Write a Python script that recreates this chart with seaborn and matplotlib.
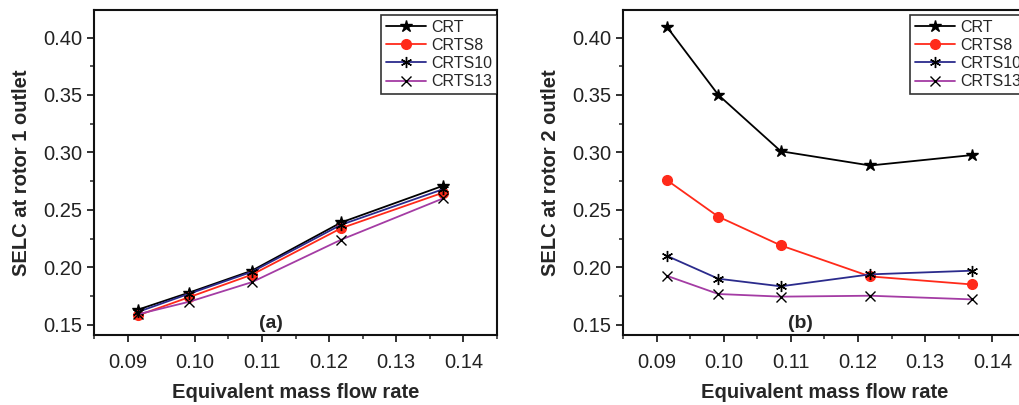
import matplotlib
matplotlib.use("Agg")
import matplotlib.pyplot as plt
import seaborn as sns
from matplotlib.ticker import MultipleLocator, AutoMinorLocator

# --- data ---
mass_flow = [0.0915, 0.0992, 0.1085, 0.1218, 0.1370]

rotor1_crt = [0.163, 0.178, 0.197, 0.239, 0.271]
rotor1_crts8 = [0.158, 0.174, 0.1935, 0.234, 0.265]
rotor1_crts10 = [0.161, 0.177, 0.196, 0.237, 0.268]
rotor1_crts13 = [0.159, 0.170, 0.187, 0.224, 0.260]

rotor2_crt = [0.4096, 0.350, 0.301, 0.2886, 0.2977]
rotor2_crts8 = [0.276, 0.244, 0.219, 0.192, 0.185]
rotor2_crts10 = [0.210, 0.190, 0.1834, 0.1938, 0.197]
rotor2_crts13 = [0.1926, 0.1767, 0.1744, 0.1752, 0.172]

series_names = ["CRT", "CRTS8", "CRTS10", "CRTS13"]
line_colors = ["#000000", "#ff2a1a", "#2b2b8c", "#a43ca4"]
marker_styles = ["*", "o", (6, 2, 0), "x"]
marker_faces = ["#000000", "#ff2a1a", "#000000", "#000000"]
marker_sizes = [9, 7, 8, 7]

sns.set_style("ticks")
plt.rcParams["font.family"] = ["Liberation Sans", "DejaVu Sans"]
plt.rcParams["axes.linewidth"] = 1.5


def draw_panel(ax, series, ylabel, tag):
	for name, vals, col, mk, mf, ms in zip(series_names, series, line_colors,
										  marker_styles, marker_faces, marker_sizes):
		sns.lineplot(x=mass_flow, y=vals, ax=ax, color=col, linewidth=1.3,
					 marker=mk, markersize=ms, markerfacecolor=mf,
					 markeredgecolor=mf, markeredgewidth=1.0, label=name)
	ax.set_xlim(0.085, 0.145)
	ax.set_ylim(0.141, 0.424)
	ax.xaxis.set_major_locator(MultipleLocator(0.01))
	ax.yaxis.set_major_locator(MultipleLocator(0.05))
	ax.xaxis.set_minor_locator(AutoMinorLocator(2))
	ax.yaxis.set_minor_locator(AutoMinorLocator(2))
	ax.xaxis.set_major_formatter(matplotlib.ticker.FormatStrFormatter("%.2f"))
	ax.yaxis.set_major_formatter(matplotlib.ticker.FormatStrFormatter("%.2f"))
	ax.tick_params(which="major", direction="out", length=5, width=1.3,
				   labelsize=14.5, top=False, right=False, colors="#222222")
	ax.tick_params(which="minor", direction="out", length=3, width=1.1,
				   top=False, right=False)
	ax.tick_params(axis="x", pad=8)
	for s in ax.spines.values():
		s.set_visible(True)
		s.set_color("#111111")
	ax.set_xlabel("Equivalent mass flow rate", fontsize=14.5,
				  fontweight="bold", labelpad=8)
	ax.set_ylabel(ylabel, fontsize=14.5, fontweight="bold", labelpad=9)
	ax.text(0.44, 0.01, tag, transform=ax.transAxes, fontsize=14,
			fontweight="bold", ha="center", va="bottom")
	leg = ax.legend(loc="upper right", bbox_to_anchor=(1.0, 0.985),
					borderaxespad=0, fontsize=11.5, frameon=True, fancybox=False,
					edgecolor="black", labelspacing=0.2, handlelength=2.5,
					handletextpad=0.35, borderpad=0.3)
	leg.get_frame().set_linewidth(1.2)


fig = plt.figure(figsize=(10.2, 4.05), dpi=100)
ax1 = fig.add_axes([94 / 1020, 70 / 405, 403 / 1020, 325 / 405])
ax2 = fig.add_axes([623 / 1020, 70 / 405, 403 / 1020, 325 / 405])

draw_panel(ax1, [rotor1_crt, rotor1_crts8, rotor1_crts10, rotor1_crts13],
		   "SELC at rotor 1 outlet", "(a)")
draw_panel(ax2, [rotor2_crt, rotor2_crts8, rotor2_crts10, rotor2_crts13],
		   "SELC at rotor 2 outlet", "(b)")

fig.savefig("out.png", dpi=100)
